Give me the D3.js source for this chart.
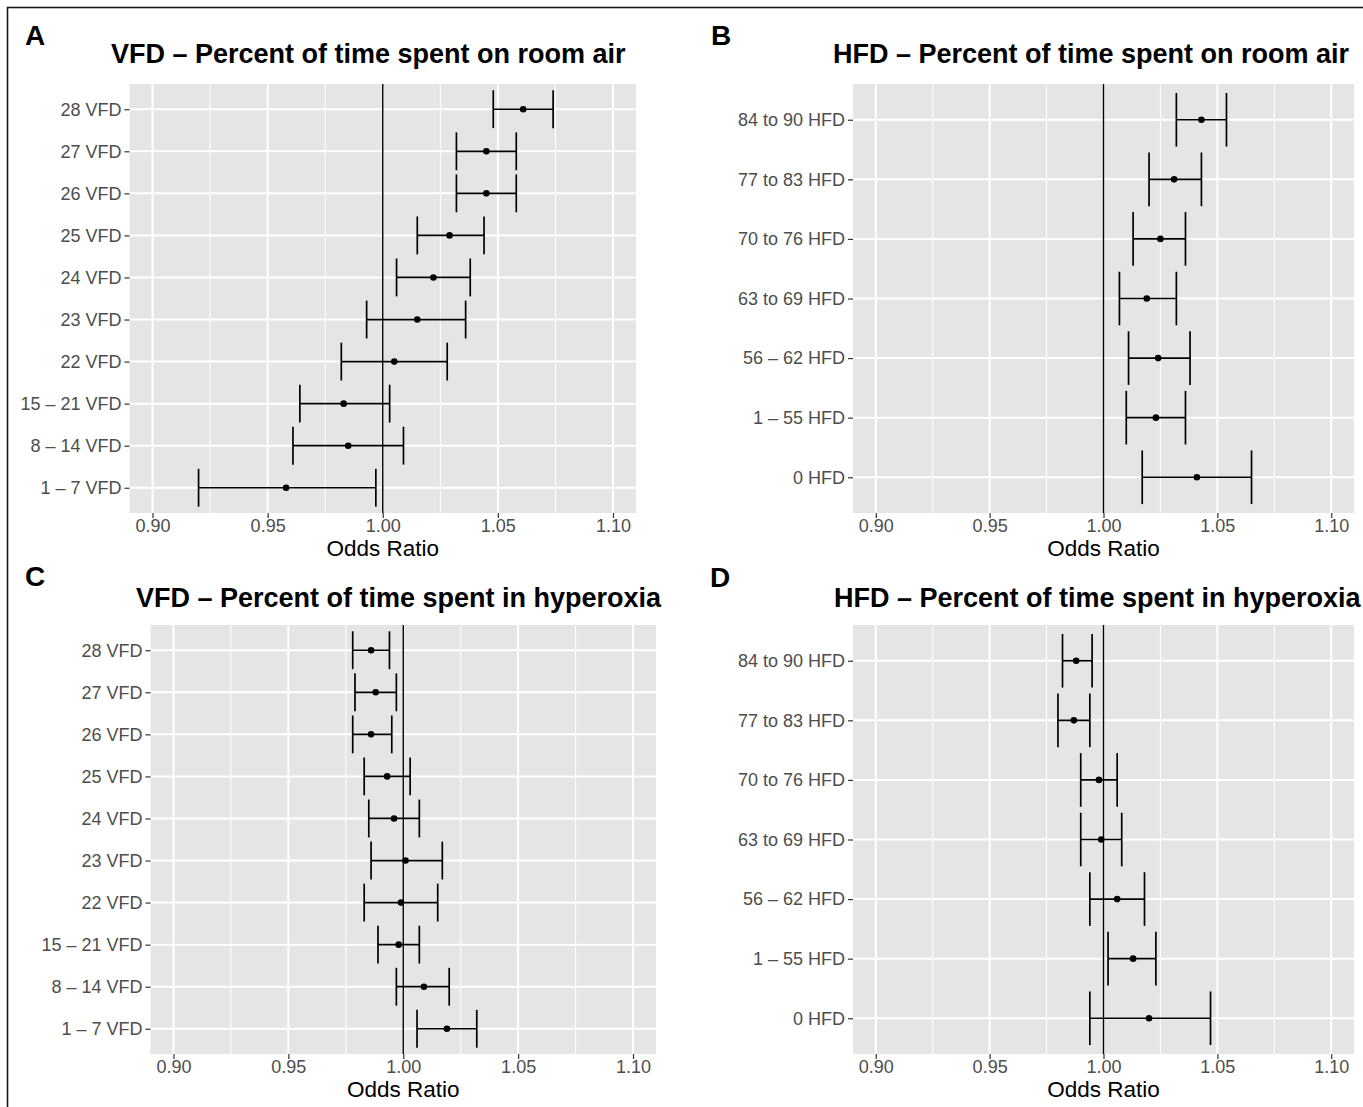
<!DOCTYPE html>
<html>
<head>
<meta charset="utf-8">
<script src="https://cdn.jsdelivr.net/npm/d3@7/dist/d3.min.js"></script>
<style>
  html, body { margin: 0; padding: 0; background: #fff; }
  svg { display: block; font-family: "Liberation Sans", Arial, Helvetica, sans-serif; }
</style>
</head>
<body>
<svg id="fig" width="1363" height="1107"></svg>
<script>
// Category labels (top to bottom)
const vfdLabels = ["28 VFD", "27 VFD", "26 VFD", "25 VFD", "24 VFD", "23 VFD", "22 VFD", "15 – 21 VFD", "8 – 14 VFD", "1 – 7 VFD"];
const hfdLabels = ["84 to 90 HFD", "77 to 83 HFD", "70 to 76 HFD", "63 to 69 HFD", "56 – 62 HFD", "1 – 55 HFD", "0 HFD"];

// Odds ratios with 95% confidence limits
const roomAirVfdOR   = [1.061, 1.045, 1.045, 1.029, 1.022, 1.015, 1.005, 0.983, 0.985, 0.958];
const roomAirVfdLow  = [1.048, 1.032, 1.032, 1.015, 1.006, 0.993, 0.982, 0.964, 0.961, 0.920];
const roomAirVfdHigh = [1.074, 1.058, 1.058, 1.044, 1.038, 1.036, 1.028, 1.003, 1.009, 0.997];

const roomAirHfdOR   = [1.043, 1.031, 1.025, 1.019, 1.024, 1.023, 1.041];
const roomAirHfdLow  = [1.032, 1.020, 1.013, 1.007, 1.011, 1.010, 1.017];
const roomAirHfdHigh = [1.054, 1.043, 1.036, 1.032, 1.038, 1.036, 1.065];

const hyperoxiaVfdOR   = [0.986, 0.988, 0.986, 0.993, 0.996, 1.001, 0.999, 0.998, 1.009, 1.019];
const hyperoxiaVfdLow  = [0.978, 0.979, 0.978, 0.983, 0.985, 0.986, 0.983, 0.989, 0.997, 1.006];
const hyperoxiaVfdHigh = [0.994, 0.997, 0.995, 1.003, 1.007, 1.017, 1.015, 1.007, 1.020, 1.032];

const hyperoxiaHfdOR   = [0.988, 0.987, 0.998, 0.999, 1.006, 1.013, 1.020];
const hyperoxiaHfdLow  = [0.982, 0.980, 0.990, 0.990, 0.994, 1.002, 0.994];
const hyperoxiaHfdHigh = [0.995, 0.994, 1.006, 1.008, 1.018, 1.023, 1.047];

const xTicks = [0.90, 0.95, 1.00, 1.05, 1.10];
const xMinor = [0.925, 0.975, 1.025, 1.075];
const xDomain = [0.89, 1.11];
const xTitle = "Odds Ratio";

const svg = d3.select("#fig");

// figure frame
svg.append("rect")
  .attr("x", 7.5).attr("y", 7.5).attr("width", 1400).attr("height", 1200)
  .attr("fill", "none").attr("stroke", "#1a1a1a").attr("stroke-width", 1.6);

const panels = [
  { letter: "A", lx: 25, ly: 45, title: "VFD – Percent of time spent on room air", tx: 111, ty: 63,
    box: [129.5, 84, 636, 513], cats: vfdLabels, est: roomAirVfdOR, lo: roomAirVfdLow, hi: roomAirVfdHigh },
  { letter: "B", lx: 711, ly: 45, title: "HFD – Percent of time spent on room air", tx: 833, ty: 63,
    box: [853, 84, 1354, 513], cats: hfdLabels, est: roomAirHfdOR, lo: roomAirHfdLow, hi: roomAirHfdHigh },
  { letter: "C", lx: 25, ly: 586, title: "VFD – Percent of time spent in hyperoxia", tx: 136, ty: 607,
    box: [150.5, 625, 656, 1054], cats: vfdLabels, est: hyperoxiaVfdOR, lo: hyperoxiaVfdLow, hi: hyperoxiaVfdHigh },
  { letter: "D", lx: 710, ly: 587, title: "HFD – Percent of time spent in hyperoxia", tx: 834, ty: 607,
    box: [853, 625, 1354, 1054], cats: hfdLabels, est: hyperoxiaHfdOR, lo: hyperoxiaHfdLow, hi: hyperoxiaHfdHigh }
];

panels.forEach(p => {
  const [x0, y0, x1, y1] = p.box;
  const x = d3.scaleLinear().domain(xDomain).range([x0, x1]);
  const y = d3.scalePoint().domain(p.cats).range([y0, y1]).padding(0.6);
  const capH = y.step() * 0.9;

  svg.append("text").text(p.letter)
    .attr("x", p.lx).attr("y", p.ly)
    .attr("font-size", 28).attr("font-weight", "bold").attr("fill", "#000");

  svg.append("text").text(p.title)
    .attr("x", p.tx).attr("y", p.ty)
    .attr("font-size", 27).attr("font-weight", "bold").attr("fill", "#000");

  const g = svg.append("g");

  // panel background
  g.append("rect").attr("x", x0).attr("y", y0).attr("width", x1 - x0).attr("height", y1 - y0)
    .attr("fill", "#e5e5e5");

  // minor gridlines
  g.selectAll(".minor").data(xMinor).join("line")
    .attr("x1", d => x(d)).attr("x2", d => x(d)).attr("y1", y0).attr("y2", y1)
    .attr("stroke", "#fff").attr("stroke-width", 1);

  // major gridlines
  g.selectAll(".majorx").data(xTicks).join("line")
    .attr("x1", d => x(d)).attr("x2", d => x(d)).attr("y1", y0).attr("y2", y1)
    .attr("stroke", "#fff").attr("stroke-width", 2);
  g.selectAll(".majory").data(p.cats).join("line")
    .attr("x1", x0).attr("x2", x1).attr("y1", d => y(d)).attr("y2", d => y(d))
    .attr("stroke", "#fff").attr("stroke-width", 2);

  // reference line at OR = 1
  g.append("line").attr("x1", x(1)).attr("x2", x(1)).attr("y1", y0).attr("y2", y1)
    .attr("stroke", "#000").attr("stroke-width", 1.4);

  const rows = p.cats.map((c, i) => ({ c, est: p.est[i], lo: p.lo[i], hi: p.hi[i] }));

  // confidence intervals
  const eb = g.selectAll(".eb").data(rows).join("g");
  eb.append("line")
    .attr("x1", d => x(d.lo)).attr("x2", d => x(d.hi))
    .attr("y1", d => y(d.c)).attr("y2", d => y(d.c))
    .attr("stroke", "#000").attr("stroke-width", 1.7);
  eb.append("line")
    .attr("x1", d => x(d.lo)).attr("x2", d => x(d.lo))
    .attr("y1", d => y(d.c) - capH / 2).attr("y2", d => y(d.c) + capH / 2)
    .attr("stroke", "#000").attr("stroke-width", 1.7);
  eb.append("line")
    .attr("x1", d => x(d.hi)).attr("x2", d => x(d.hi))
    .attr("y1", d => y(d.c) - capH / 2).attr("y2", d => y(d.c) + capH / 2)
    .attr("stroke", "#000").attr("stroke-width", 1.7);
  eb.append("circle")
    .attr("cx", d => x(d.est)).attr("cy", d => y(d.c)).attr("r", 3.3)
    .attr("fill", "#000");

  // axes
  const xAxis = d3.axisBottom(x).tickValues(xTicks).tickFormat(d3.format(".2f"))
    .tickSize(5).tickPadding(1.5);
  const gx = svg.append("g").attr("transform", `translate(0,${y1})`).call(xAxis);
  gx.select(".domain").remove();
  gx.selectAll(".tick line").attr("stroke", "#333").attr("stroke-width", 1.2);
  gx.selectAll(".tick text").attr("fill", "#4d4d4d").attr("font-size", 18)
    .attr("font-family", "Liberation Sans, Arial, sans-serif");

  const yAxis = d3.axisLeft(y).tickSize(5).tickPadding(3);
  const gy = svg.append("g").attr("transform", `translate(${x0},0)`).call(yAxis);
  gy.select(".domain").remove();
  gy.selectAll(".tick line").attr("stroke", "#333").attr("stroke-width", 1.2);
  gy.selectAll(".tick text").attr("fill", "#4d4d4d").attr("font-size", 18)
    .attr("font-family", "Liberation Sans, Arial, sans-serif");

  svg.append("text").text(xTitle)
    .attr("x", (x0 + x1) / 2).attr("y", y1 + 43)
    .attr("text-anchor", "middle").attr("font-size", 22.5).attr("fill", "#000");
});
</script>
</body>
</html>
